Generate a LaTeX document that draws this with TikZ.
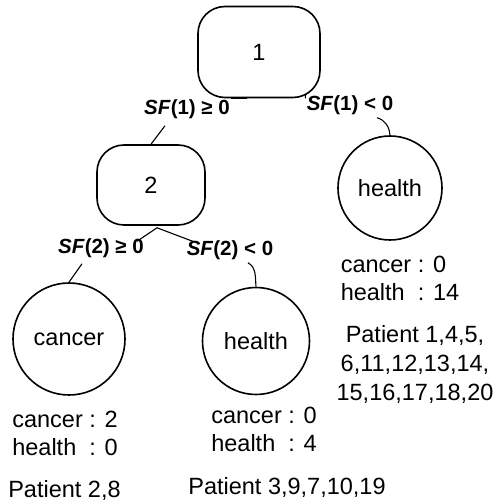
\documentclass[tikz,border=0pt]{standalone}
\usepackage{fontspec}
\setmainfont{Liberation Sans}
\begin{document}
\begin{tikzpicture}[x=1pt,y=1pt,
  txt/.style={font=\fontsize{23.5}{28}\selectfont, inner sep=0pt},
  sflab/.style={font=\fontsize{20.5}{24}\selectfont\bfseries, inner sep=1pt},
  boxnode/.style={draw, line width=1.6pt, rounded corners=27pt, font=\fontsize{23.5}{28}\selectfont},
  leaf/.style={draw, circle, line width=1.6pt, inner sep=0pt, font=\fontsize{23.5}{28}\selectfont},
  conn/.style={line width=1.1pt}]
\useasboundingbox (0,0) rectangle (498,504);
% decision nodes
\node[boxnode, minimum width=122pt, minimum height=91pt] (b1) at (259,452) {1};
\node[boxnode, minimum width=108pt, minimum height=80pt] (b2) at (151,319) {2};
% leaves
\node[leaf, minimum size=112pt] (c1) at (69,165) {cancer};
\node[leaf, minimum size=107pt] (c2) at (256,163) {health};
\node[leaf, minimum size=104pt] (c3) at (390,316) {health};
% branch labels
\node[sflab] (l1) at (187,395) {\textit{SF}(1) ≥ 0};
\node[sflab] (l2) at (350,399) {\textit{SF}(1) < 0};
\node[sflab] (l3) at (101,256) {\textit{SF}(2) ≥ 0};
\node[sflab] (l4) at (230,254) {\textit{SF}(2) < 0};
% connectors
\draw[conn] ([xshift=-12pt]b1.south) -- (l1.north east);
\draw[conn] ([xshift=-22pt,yshift=-6pt]l1.south) -- (b2.north);
\draw[conn] (b1.-45) -- (l2.north west);
\draw[conn] ([xshift=27pt,yshift=-2pt]l2.south) to[out=-15,in=95] (c3.north);
\coordinate (v2) at ([xshift=6pt,yshift=-2pt]b2.south);
\draw[conn] ([xshift=-8pt,yshift=-4pt]l3.north east) -- (v2) -- ([xshift=7pt,yshift=-2pt]l4.north west);
\draw[conn] ([xshift=-19pt,yshift=-5pt]l3.south) -- (c1.north);
\draw[conn] ([xshift=18pt,yshift=-2pt]l4.south) to[out=-30,in=95] (c2.north);
% statistics
\node[txt] (s1) at (65,68) {\begin{tabular}{@{}l@{ : }l@{}}cancer & 2\\ health & 0\end{tabular}};
\node[txt] (s2) at (264,72) {\begin{tabular}{@{}l@{ : }l@{}}cancer & 0\\ health & 4\end{tabular}};
\node[txt] (s3) at (400,223) {\begin{tabular}{@{}l@{ : }l@{}}cancer & 0\\ health & 14\end{tabular}};
% patients
\node[txt] (p1) at (64.5,14) {Patient 2,8};
\node[txt] (p2) at (287,17) {Patient 3,9,7,10,19};
\node[txt, align=center, font=\fontsize{23.5}{29}\selectfont] (p3) at (415,140) {Patient 1,4,5,\\6,11,12,13,14,\\15,16,17,18,20};
\end{tikzpicture}
\end{document}
